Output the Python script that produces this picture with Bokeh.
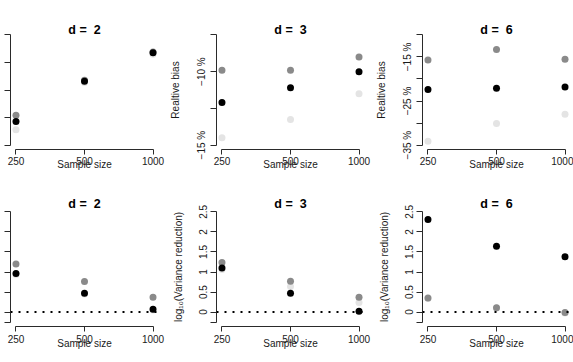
from bokeh.plotting import figure
from bokeh.layouts import column, row
from bokeh.models import Range1d, FixedTicker, Span, BasicTickFormatter
from bokeh.embed import file_html
from bokeh.resources import INLINE

# ---------------------------------------------------------------- data
sample_size = [250, 500, 1000]
x_tick_labels = ["250", "500", "1000"]

# relative bias (%) for each dimension d, three estimators
bias_d2_black = [-4.28, -1.37, 0.71]
bias_d2_grey = [-3.84, -1.30, 0.76]
bias_d2_light = [-4.89, -1.45, 0.60]

bias_d3_black = [-12.1, -11.1, -10.0]
bias_d3_grey = [-9.9, -9.9, -9.0]
bias_d3_light = [-14.5, -13.25, -11.5]

bias_d6_black = [-22.4, -22.1, -21.8]
bias_d6_grey = [-15.7, -13.3, -15.5]
bias_d6_light = [-34.1, -30.1, -28.0]

# log10 of the variance reduction
vr_d2_black = [0.96, 0.47, 0.07]
vr_d2_grey = [1.20, 0.76, 0.37]
vr_d2_light = [0.94, 0.45, 0.05]

vr_d3_black = [1.10, 0.47, 0.02]
vr_d3_grey = [1.24, 0.77, 0.37]
vr_d3_light = [1.06, 0.64, 0.24]

vr_d6_black = [2.31, 1.64, 1.38]
vr_d6_grey = [0.35, 0.11, -0.01]
vr_d6_light = [0.34, 0.10, -0.02]

# y axes: labelled ticks, their labels, and extra unlabelled ticks
bias_d2_ticks = []
bias_d2_tick_labels = []
bias_d2_plain_ticks = [-6, -4, -2, 0, 2]
bias_d3_ticks = [-15, -10]
bias_d3_tick_labels = ["\u221215 %", "\u221210 %"]
bias_d3_plain_ticks = [-12.5, -7.5]
bias_d6_ticks = [-35, -25, -15]
bias_d6_tick_labels = ["\u221235 %", "\u221225 %", "\u221215 %"]
bias_d6_plain_ticks = [-30, -20, -10]
vr_ticks = [0, 0.5, 1, 1.5, 2, 2.5]
vr_tick_labels = ["0", "0.5", "1", "1.5", "2", "2.5"]
vr_plain_ticks = [-0.25]
vr_left_ticks = []
vr_left_tick_labels = []
vr_left_plain_ticks = [-0.25, 0, 0.5, 1, 1.5, 2, 2.5]

COL_BLACK = "#000000"
COL_GREY = "#8a8a8a"
COL_LIGHT = "#e4e4e4"
FONT = "Liberation Sans"
AXIS_COL = "#2a2a2a"
TEXT_COL = "#1a1a1a"

# column geometry: (figure width, left border, right border); frame is 148 px
COLS = [(166, 10, 8), (206, 50, 8), (201, 50, 3)]
# row geometry: (figure height, top border, bottom border,
#                x tick-label standoff, x axis-label standoff, title standoff)
ROWS = [(177, 30, 28, 2, -9, -12), (185, 30, 36, 3, -8, -6)]


def padded(lo, hi, frac=0.04):
    span = hi - lo
    return lo - frac * span, hi + frac * span


def panel(d, series, ticks, tick_labels, plain_ticks, ylabel, col, rw, zero_line):
    w, bl, br = COLS[col]
    h, bt, bb, tick_gap, label_gap, title_gap = ROWS[rw]
    all_ticks = sorted(list(ticks) + list(plain_ticks))
    xr = (sample_size[-1] / sample_size[0]) ** 0.04
    ylo, yhi = padded(all_ticks[0], all_ticks[-1])
    p = figure(width=w, height=h, x_axis_type="log",
               x_range=Range1d(sample_size[0] / xr, sample_size[-1] * xr),
               y_range=Range1d(ylo, yhi),
               output_backend="svg", toolbar_location=None,
               min_border_left=bl, min_border_right=br,
               min_border_top=bt, min_border_bottom=bb)
    p.background_fill_color = "white"
    p.border_fill_color = "white"
    p.outline_line_color = None
    p.xgrid.visible = False
    p.ygrid.visible = False

    p.title.text = f"d = \u00a0{d}"
    p.title.align = "center"
    p.title.text_font = FONT
    p.title.text_font_size = "12.5px"
    p.title.text_font_style = "bold"
    p.title.text_color = "#000000"
    p.title.standoff = title_gap

    xa = p.xaxis[0]
    xa.ticker = FixedTicker(ticks=sample_size)
    xa.formatter = BasicTickFormatter()
    xa.major_label_overrides = dict(zip(sample_size, x_tick_labels))
    xa.bounds = (sample_size[0], sample_size[-1])
    xa.major_tick_out = 5
    xa.major_tick_in = 0
    xa.minor_tick_line_color = None
    xa.major_label_standoff = tick_gap
    xa.axis_label = "Sample size"
    xa.axis_label_standoff = label_gap

    ya = p.yaxis[0]
    ya.ticker = FixedTicker(ticks=list(ticks), minor_ticks=list(plain_ticks))
    if ticks:
        ya.major_label_overrides = dict(zip(ticks, tick_labels))
    ya.bounds = (all_ticks[0], all_ticks[-1])
    ya.major_tick_out = 6
    ya.major_tick_in = 0
    ya.minor_tick_out = 6
    ya.minor_tick_in = 0
    ya.minor_tick_line_color = AXIS_COL
    ya.major_label_orientation = "vertical"
    ya.major_label_standoff = 3
    if ticks:
        ya.axis_label = ylabel
        ya.axis_label_standoff = 13
    else:
        ya.major_label_standoff = 0

    for ax in (xa, ya):
        ax.axis_line_color = AXIS_COL
        ax.major_tick_line_color = AXIS_COL
        ax.major_label_text_font = FONT
        ax.major_label_text_color = TEXT_COL
        ax.major_label_text_font_size = "10px"
        ax.axis_label_text_font = FONT
        ax.axis_label_text_font_style = "normal"
        ax.axis_label_text_color = TEXT_COL
        ax.axis_label_text_font_size = "10px"

    if zero_line:
        p.add_layout(Span(location=0, dimension="width", line_color="#000000",
                          line_width=2, line_dash="2 6"))

    black, grey, light = series
    for vals, colr in ((light, COL_LIGHT), (grey, COL_GREY), (black, COL_BLACK)):
        p.scatter(sample_size, vals, size=7, color=colr, line_color=None)
    return p


top = row(
    panel(2, (bias_d2_black, bias_d2_grey, bias_d2_light), bias_d2_ticks,
          bias_d2_tick_labels, bias_d2_plain_ticks, "Realtive bias", 0, 0, False),
    panel(3, (bias_d3_black, bias_d3_grey, bias_d3_light), bias_d3_ticks,
          bias_d3_tick_labels, bias_d3_plain_ticks, "Realtive bias", 1, 0, False),
    panel(6, (bias_d6_black, bias_d6_grey, bias_d6_light), bias_d6_ticks,
          bias_d6_tick_labels, bias_d6_plain_ticks, "Realtive bias", 2, 0, False),
)
vr_label = "log\u2081\u2080(Variance reduction)"
bottom = row(
    panel(2, (vr_d2_black, vr_d2_grey, vr_d2_light), vr_left_ticks,
          vr_left_tick_labels, vr_left_plain_ticks, vr_label, 0, 1, True),
    panel(3, (vr_d3_black, vr_d3_grey, vr_d3_light), vr_ticks, vr_tick_labels,
          vr_plain_ticks, vr_label, 1, 1, True),
    panel(6, (vr_d6_black, vr_d6_grey, vr_d6_light), vr_ticks, vr_tick_labels,
          vr_plain_ticks, vr_label, 2, 1, True),
)
layout = column(top, bottom)

with open("out.html", "w") as f:
    f.write(file_html(layout, INLINE))
